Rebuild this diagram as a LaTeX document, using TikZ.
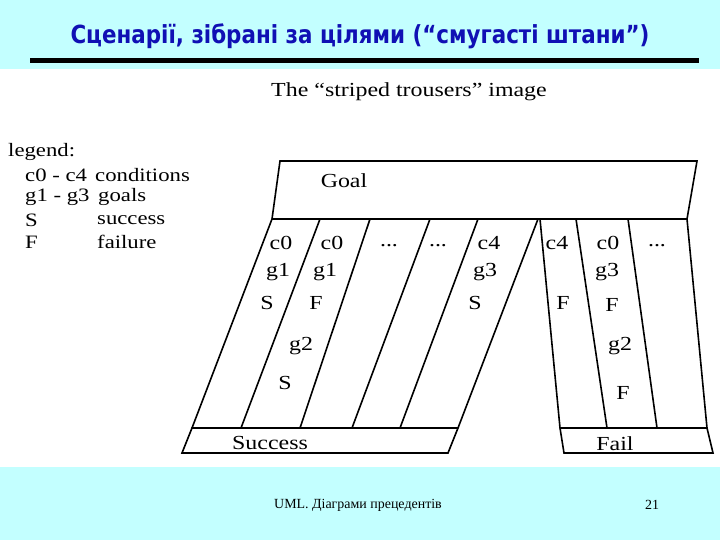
\documentclass[tikz,border=0pt]{standalone}
\usepackage{fontspec}
\setmainfont{Liberation Serif}
\newfontfamily\diagfont[FakeStretch=1.2]{Liberation Serif}
\newfontfamily\titlefont[FakeStretch=0.86]{DejaVu Sans}
\usetikzlibrary{calc}
\definecolor{slidebg}{RGB}{195,255,255}
\definecolor{titleblue}{RGB}{16,16,180}
\tikzset{
	trouser/.style={line width=1.6bp},
	lbl/.style={font=\diagfont\fontsize{20}{20}\selectfont, inner sep=0pt},
	leg/.style={font=\diagfont\fontsize{19}{19}\selectfont, inner sep=0pt, anchor=west}
}

\begin{document}
\begin{tikzpicture}[x=1bp, y=-1bp]
			%%%%% START %%%%%
			
			\useasboundingbox (0, 0) rectangle (720, 540);
			\fill[slidebg] (0, 0) rectangle (720, 540);
			\fill[white] (0, 69) rectangle (720, 467);
			
			% title
			\node[font=\titlefont\bfseries\fontsize{25}{25}\selectfont, text=titleblue, inner sep=0pt] (title) at (360, 36) {Сценарії, зібрані за цілями (“смугасті штани”)};
			\draw[line width=4.4bp] (30, 60.5) -- (699, 60.5);
			
			\node[font=\diagfont\fontsize{20}{20}\selectfont, inner sep=0pt] (head) at (409, 92) {The “striped trousers” image};
			
			% legend
			\node[leg] (legend) at (8, 152) {legend:};
			\node[leg] (cond) at (25, 175) {c0 - c4};
			\node[leg] (goalk) at (25, 197) {g1 - g3};
			\node[leg] (succk) at (25, 220) {S};
			\node[leg] (failk) at (25, 242) {F};
			\node[leg] (condv) at (95, 175) {conditions};
			\node[leg] (goalv) at (98, 197) {goals};
			\node[leg] (succv) at (97, 220) {success};
			\node[leg] (failv) at (97, 242) {failure};
			
			% goal box and the two legs
			\draw[trouser] (280, 161) -- (697, 161) -- (687, 219) -- (272, 219) -- cycle;
			\draw[trouser] (272, 219) -- (192, 428);
			\foreach \a/\b in {320/241, 370/300, 430/352, 478/400, 538/458}
				\draw[trouser] (\a, 219) -- (\b, 428);
			\foreach \a/\b in {540/560, 576/607, 628/657, 687/707}
				\draw[trouser] (\a, 219) -- (\b, 428);
			
			\draw[trouser] (192, 428) -- (458, 428) -- (448, 453) -- (182, 453) -- cycle;
			\draw[trouser] (560, 428) -- (707, 428) -- (713, 453) -- (564, 453) -- cycle;
			
			\node[lbl] (goal) at (344, 181) {Goal};
			\node[lbl] (success) at (270, 443) {Success};
			\node[lbl] (fail) at (615, 444) {Fail};
			
			% stripe labels
			\node[lbl] (c0a) at (281, 243) {c0};
			\node[lbl] (g1a) at (278, 272) {g1};
			\node[lbl] (sa) at (267, 303) {S};
			\node[lbl] (c0b) at (332, 243) {c0};
			\node[lbl] (g1b) at (325, 272) {g1};
			\node[lbl] (fb) at (316, 303) {F};
			\node[lbl] (g2b) at (301, 346) {g2};
			\node[lbl] (sb) at (285, 383) {S};
			\node[lbl] (dota) at (389, 246) {...};
			\node[lbl] (dotb) at (438, 246) {...};
			\node[lbl] (c4c) at (489, 243) {c4};
			\node[lbl] (g3c) at (485, 272) {g3};
			\node[lbl] (sc) at (475, 303) {S};
			\node[lbl] (c4d) at (557, 243) {c4};
			\node[lbl] (fd) at (563, 303) {F};
			\node[lbl] (c0e) at (608, 243) {c0};
			\node[lbl] (g3e) at (607, 272) {g3};
			\node[lbl] (fe) at (612, 305) {F};
			\node[lbl] (g2e) at (620, 346) {g2};
			\node[lbl] (fe2) at (623, 393) {F};
			\node[lbl] (dotf) at (657, 246) {...};
			
			% footer
			\node[font=\fontsize{14}{14}\selectfont, inner sep=0pt] (foot) at (358, 505) {UML. Діаграми прецедентів};
			\node[font=\fontsize{14}{14}\selectfont, inner sep=0pt] (page) at (652, 505) {21};
			
			%%%%% END %%%%%
		\end{tikzpicture}
\end{document}
